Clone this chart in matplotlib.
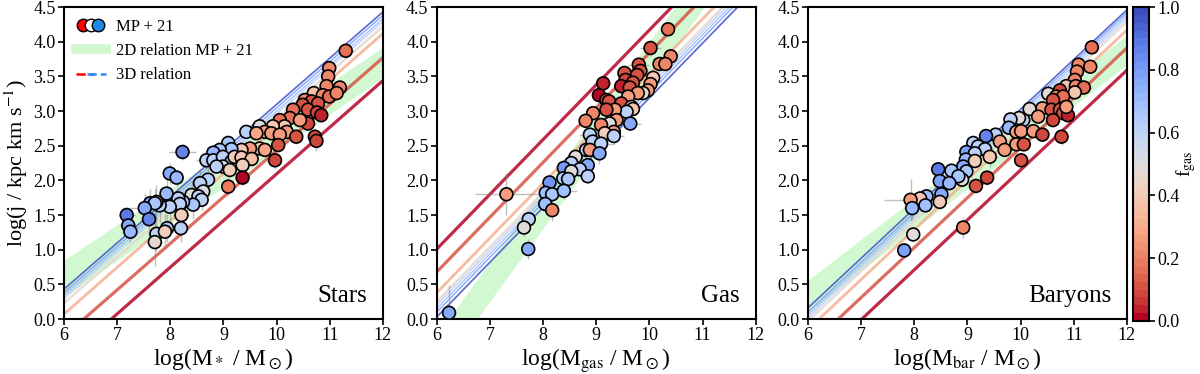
import numpy as np
import matplotlib
matplotlib.use("Agg")
import matplotlib.pyplot as plt
from matplotlib.lines import Line2D
from matplotlib.legend_handler import HandlerTuple

plt.rcParams['font.family'] = ['Liberation Serif', 'DejaVu Serif']
plt.rcParams['mathtext.fontset'] = 'stix'

# --- data: (log M, log j, f_gas, x error, y error) ---
stars_pts = [
    (11.30, 3.87, 0.15, 0.15, 0.10), (10.99, 3.62, 0.22, 0.10, 0.08), (10.97, 3.50, 0.22, 0.10, 0.08),
    (10.94, 3.36, 0.22, 0.12, 0.08), (11.19, 3.34, 0.22, 0.15, 0.10), (10.70, 3.26, 0.35, 0.10, 0.08),
    (10.87, 3.23, 0.20, 0.10, 0.08), (10.53, 3.16, 0.22, 0.10, 0.08), (10.66, 3.14, 0.12, 0.10, 0.08),
    (10.99, 3.21, 0.15, 0.10, 0.08), (11.13, 3.26, 0.22, 0.10, 0.08), (10.49, 3.09, 0.10, 0.10, 0.08),
    (10.78, 3.11, 0.10, 0.10, 0.08), (10.31, 3.02, 0.15, 0.10, 0.08), (10.59, 3.02, 0.10, 0.10, 0.08),
    (10.76, 2.98, 0.08, 0.10, 0.08), (10.84, 2.94, 0.03, 0.10, 0.10), (10.59, 2.82, 0.08, 0.15, 0.10),
    (10.25, 2.90, 0.15, 0.10, 0.08), (10.06, 2.87, 0.15, 0.10, 0.08), (10.44, 2.87, 0.25, 0.10, 0.08),
    (10.15, 2.78, 0.38, 0.10, 0.08), (10.19, 2.70, 0.25, 0.10, 0.08), (10.37, 2.63, 0.10, 0.10, 0.10),
    (10.72, 2.63, 0.08, 0.12, 0.12), (10.75, 2.57, 0.08, 0.10, 0.15), (9.93, 2.78, 0.38, 0.10, 0.08),
    (9.68, 2.78, 0.48, 0.10, 0.08), (9.78, 2.70, 0.28, 0.10, 0.08), (9.90, 2.68, 0.25, 0.10, 0.08),
    (9.43, 2.70, 0.60, 0.10, 0.08), (9.62, 2.68, 0.28, 0.10, 0.08), (10.06, 2.66, 0.25, 0.10, 0.08),
    (10.03, 2.51, 0.10, 0.10, 0.10), (9.68, 2.46, 0.38, 0.10, 0.10), (9.78, 2.44, 0.28, 0.10, 0.10),
    (9.50, 2.46, 0.25, 0.10, 0.10), (9.34, 2.44, 0.38, 0.10, 0.10), (9.09, 2.54, 0.65, 0.12, 0.12),
    (9.15, 2.45, 0.65, 0.12, 0.10), (8.93, 2.44, 0.65, 0.12, 0.10), (8.81, 2.40, 0.72, 0.20, 0.10),
    (8.68, 2.29, 0.62, 0.20, 0.12), (8.81, 2.29, 0.60, 0.12, 0.10), (8.99, 2.34, 0.60, 0.12, 0.10),
    (9.15, 2.27, 0.65, 0.12, 0.10), (9.21, 2.34, 0.40, 0.10, 0.10), (9.34, 2.33, 0.38, 0.10, 0.10),
    (9.53, 2.31, 0.35, 0.10, 0.10), (9.36, 2.22, 0.42, 0.10, 0.10), (8.99, 2.20, 0.50, 0.12, 0.10),
    (8.87, 2.20, 0.60, 0.12, 0.10), (9.12, 2.15, 0.40, 0.10, 0.10), (9.97, 2.29, 0.08, 0.10, 0.12),
    (8.23, 2.41, 0.85, 0.25, 0.12), (7.99, 2.10, 0.75, 0.12, 0.15), (8.12, 2.04, 0.72, 0.12, 0.12),
    (9.36, 2.04, 0.02, 0.10, 0.10), (9.09, 1.91, 0.18, 0.10, 0.12), (8.71, 2.01, 0.60, 0.12, 0.20),
    (8.56, 1.96, 0.62, 0.15, 0.20), (8.62, 1.84, 0.50, 0.12, 0.15), (8.40, 1.79, 0.48, 0.15, 0.20),
    (8.53, 1.77, 0.60, 0.12, 0.15), (8.59, 1.72, 0.62, 0.12, 0.15), (8.43, 1.65, 0.65, 0.15, 0.20),
    (8.24, 1.69, 0.65, 0.15, 0.15), (8.15, 1.74, 0.62, 0.15, 0.15), (8.18, 1.66, 0.60, 0.15, 0.15),
    (7.93, 1.81, 0.72, 0.15, 0.25), (7.99, 1.62, 0.60, 0.15, 0.20), (7.80, 1.64, 0.62, 0.15, 0.25),
    (7.74, 1.69, 0.30, 0.15, 0.25), (7.62, 1.67, 0.75, 0.20, 0.20), (7.71, 1.67, 0.65, 0.15, 0.20),
    (7.52, 1.60, 0.75, 0.40, 0.20), (8.21, 1.50, 0.42, 0.15, 0.20), (7.18, 1.50, 0.88, 0.15, 0.12),
    (7.21, 1.35, 0.75, 0.15, 0.15), (7.25, 1.26, 0.70, 0.15, 0.15), (7.60, 1.44, 0.85, 0.15, 0.35),
    (7.94, 1.31, 0.65, 0.15, 0.20), (8.20, 1.31, 0.62, 0.15, 0.20), (7.74, 1.23, 0.62, 0.15, 0.25),
    (7.90, 1.26, 0.40, 0.15, 0.25), (7.71, 1.11, 0.47, 0.15, 0.35),
]

gas_pts = [
    (10.35, 4.18, 0.15, 0.10, 0.08), (10.02, 3.91, 0.10, 0.20, 0.12), (10.40, 3.79, 0.22, 0.10, 0.08),
    (10.19, 3.68, 0.22, 0.10, 0.08), (10.30, 3.68, 0.22, 0.10, 0.08), (9.80, 3.67, 0.10, 0.20, 0.10),
    (9.83, 3.58, 0.10, 0.15, 0.10), (9.53, 3.55, 0.10, 0.12, 0.10), (9.77, 3.52, 0.10, 0.12, 0.10),
    (10.07, 3.48, 0.38, 0.10, 0.08), (9.13, 3.40, 0.03, 0.12, 0.10), (9.55, 3.45, 0.08, 0.12, 0.10),
    (9.69, 3.41, 0.10, 0.12, 0.10), (9.47, 3.36, 0.03, 0.12, 0.10), (9.63, 3.34, 0.10, 0.12, 0.10),
    (10.02, 3.39, 0.25, 0.10, 0.08), (9.97, 3.30, 0.25, 0.10, 0.08), (9.88, 3.26, 0.45, 0.10, 0.08),
    (9.78, 3.26, 0.25, 0.10, 0.08), (9.60, 3.21, 0.25, 0.10, 0.08), (9.05, 3.23, 0.02, 0.15, 0.12),
    (9.19, 3.16, 0.08, 0.12, 0.10), (9.24, 3.14, 0.10, 0.12, 0.10), (9.47, 3.11, 0.10, 0.12, 0.10),
    (9.66, 3.06, 0.48, 0.10, 0.08), (9.69, 3.03, 0.38, 0.10, 0.08), (9.57, 2.99, 0.62, 0.10, 0.08),
    (9.35, 3.02, 0.25, 0.12, 0.10), (9.19, 3.02, 0.10, 0.12, 0.10), (8.94, 2.97, 0.22, 0.12, 0.10),
    (8.80, 2.86, 0.22, 0.12, 0.10), (9.38, 2.87, 0.25, 0.12, 0.10), (9.25, 2.82, 0.48, 0.12, 0.10),
    (9.09, 2.80, 0.22, 0.12, 0.10), (9.64, 2.82, 0.75, 0.20, 0.10), (9.33, 2.70, 0.25, 0.12, 0.10),
    (9.16, 2.68, 0.40, 0.12, 0.10), (9.33, 2.64, 0.62, 0.20, 0.12), (8.88, 2.66, 0.62, 0.20, 0.12),
    (8.93, 2.56, 0.62, 0.12, 0.10), (9.09, 2.53, 0.62, 0.25, 0.12), (8.81, 2.44, 0.62, 0.12, 0.10),
    (8.88, 2.44, 0.25, 0.12, 0.10), (9.06, 2.39, 0.75, 0.12, 0.15), (8.61, 2.34, 0.48, 0.12, 0.10),
    (8.53, 2.25, 0.62, 0.12, 0.10), (8.39, 2.18, 0.82, 0.12, 0.10), (8.84, 2.22, 0.75, 0.12, 0.10),
    (8.69, 2.16, 0.62, 0.12, 0.10), (8.53, 2.13, 0.48, 0.12, 0.10), (8.38, 2.03, 0.62, 0.12, 0.10),
    (8.47, 2.02, 0.65, 0.12, 0.10), (8.84, 2.06, 0.62, 0.12, 0.10), (8.12, 1.97, 0.82, 0.12, 0.10),
    (8.05, 1.82, 0.68, 0.12, 0.10), (8.17, 1.80, 0.65, 0.15, 0.10), (8.39, 1.85, 0.68, 0.25, 0.12),
    (7.31, 1.80, 0.25, 0.60, 0.30), (8.04, 1.66, 0.68, 0.15, 0.12), (8.17, 1.57, 0.22, 0.12, 0.15),
    (7.73, 1.44, 0.62, 0.12, 0.12), (7.64, 1.32, 0.48, 0.12, 0.12), (7.72, 1.01, 0.75, 0.10, 0.15),
    (6.23, 0.09, 0.75, 0.10, 0.40),
]

baryons_pts = [
    (11.34, 3.92, 0.15, 0.10, 0.08), (11.09, 3.67, 0.22, 0.10, 0.08), (11.31, 3.64, 0.22, 0.10, 0.08),
    (11.06, 3.57, 0.22, 0.10, 0.08), (11.02, 3.45, 0.22, 0.10, 0.08), (10.86, 3.36, 0.38, 0.10, 0.08),
    (11.04, 3.36, 0.22, 0.10, 0.08), (11.19, 3.34, 0.15, 0.15, 0.10), (10.74, 3.30, 0.08, 0.10, 0.08),
    (11.02, 3.27, 0.38, 0.10, 0.08), (10.52, 3.25, 0.48, 0.10, 0.08), (10.67, 3.21, 0.22, 0.10, 0.08),
    (10.80, 3.21, 0.15, 0.10, 0.08), (10.61, 3.16, 0.10, 0.10, 0.08), (10.41, 3.04, 0.25, 0.10, 0.08),
    (10.58, 3.02, 0.10, 0.10, 0.08), (10.74, 3.02, 0.10, 0.10, 0.08), (10.80, 2.97, 0.10, 0.10, 0.08),
    (10.89, 2.94, 0.03, 0.12, 0.10), (10.61, 2.87, 0.08, 0.10, 0.08), (10.86, 3.06, 0.25, 0.10, 0.08),
    (10.17, 3.03, 0.48, 0.10, 0.08), (10.33, 2.92, 0.25, 0.10, 0.08), (10.05, 2.87, 0.62, 0.10, 0.08),
    (9.97, 2.90, 0.48, 0.10, 0.08), (9.81, 2.88, 0.62, 0.10, 0.08), (9.78, 2.76, 0.72, 0.10, 0.08),
    (9.92, 2.70, 0.25, 0.10, 0.08), (10.01, 2.71, 0.25, 0.10, 0.08), (10.24, 2.71, 0.25, 0.10, 0.08),
    (10.41, 2.66, 0.08, 0.10, 0.08), (10.77, 2.63, 0.08, 0.12, 0.12), (9.53, 2.66, 0.62, 0.10, 0.08),
    (9.35, 2.64, 0.85, 0.10, 0.08), (9.61, 2.56, 0.25, 0.10, 0.08), (9.70, 2.44, 0.25, 0.10, 0.08),
    (9.92, 2.52, 0.25, 0.10, 0.08), (10.06, 2.52, 0.10, 0.10, 0.08), (9.11, 2.54, 0.62, 0.10, 0.10),
    (9.20, 2.49, 0.62, 0.10, 0.10), (9.33, 2.45, 0.62, 0.15, 0.10), (8.98, 2.41, 0.78, 0.10, 0.10),
    (9.14, 2.39, 0.62, 0.10, 0.10), (8.97, 2.30, 0.72, 0.10, 0.10), (9.14, 2.28, 0.42, 0.10, 0.10),
    (9.42, 2.34, 0.38, 0.15, 0.15), (10.01, 2.29, 0.10, 0.10, 0.10), (8.92, 2.20, 0.75, 0.10, 0.10),
    (8.98, 2.13, 0.65, 0.10, 0.10), (8.90, 2.01, 0.48, 0.10, 0.10), (8.70, 2.14, 0.65, 0.10, 0.10),
    (8.83, 2.06, 0.65, 0.10, 0.10), (8.45, 2.16, 0.88, 0.10, 0.10), (8.48, 1.99, 0.78, 0.10, 0.10),
    (8.66, 1.96, 0.70, 0.10, 0.10), (9.37, 2.04, 0.08, 0.10, 0.10), (9.16, 1.92, 0.12, 0.10, 0.10),
    (8.51, 1.80, 0.75, 0.10, 0.10), (8.23, 1.77, 0.68, 0.10, 0.10), (8.11, 1.74, 0.38, 0.10, 0.10),
    (7.93, 1.72, 0.25, 0.50, 0.30), (8.21, 1.64, 0.68, 0.15, 0.10), (7.96, 1.60, 0.72, 0.15, 0.15),
    (8.48, 1.69, 0.40, 0.10, 0.10), (7.98, 1.22, 0.48, 0.10, 0.10), (8.92, 1.32, 0.22, 0.10, 0.15),
    (7.81, 0.99, 0.78, 0.10, 0.10),
]

# 3D relation lines at log M = 6 and 12, for a set of gas fractions
rel_fgas = [0.02, 0.10, 0.30, 0.45, 0.60, 0.70, 0.80, 0.95]
rel_x = [6, 12]
stars_rel_lo = [-0.60, -0.25, 0.07, 0.23, 0.30, 0.34, 0.38, 0.43]
stars_rel_hi = [3.44, 3.77, 4.12, 4.22, 4.29, 4.33, 4.38, 4.43]
gas_rel_lo = [1.01, 0.68, 0.38, 0.25, 0.20, 0.15, 0.10, 0.03]
gas_rel_hi = [5.75, 5.42, 5.12, 4.99, 4.94, 4.89, 4.84, 4.77]
bar_rel_lo = [-0.73, -0.41, -0.15, -0.03, 0.02, 0.06, 0.10, 0.16]
bar_rel_hi = [3.59, 3.91, 4.17, 4.29, 4.34, 4.38, 4.42, 4.46]
rel_lw = [2.3, 2.3, 2.0, 1.8, 1.2, 1.0, 1.0, 1.3]

# 2D relation band (lower/upper edge at log M = 6 and 12)
stars_band = [(0.32, 3.48), (0.85, 3.92)]
gas_band = [(-0.81, 5.50), (-0.25, 6.10)]
bar_band = [(0.10, 3.67), (0.56, 4.10)]

panel_names = ['Stars', 'Gas', 'Baryons']
xlabels = [r'log(M$_*$ / M$_\odot$)', r'log(M$_{\rm gas}$ / M$_\odot$)', r'log(M$_{\rm bar}$ / M$_\odot$)']

cmap = plt.get_cmap('coolwarm_r', 40)
norm = plt.Normalize(0, 1)

fig = plt.figure(figsize=(12, 3.74), dpi=100)
lefts = [0.0533, 0.364, 0.6733]
axes = [fig.add_axes([l, 0.147, 0.2658, 0.834]) for l in lefts]
cax = fig.add_axes([0.944, 0.142, 0.0133, 0.839])

panels = [
    (stars_pts, stars_rel_lo, stars_rel_hi, stars_band),
    (gas_pts, gas_rel_lo, gas_rel_hi, gas_band),
    (baryons_pts, bar_rel_lo, bar_rel_hi, bar_band),
]

for i, ax in enumerate(axes):
    pts, rlo, rhi, band = panels[i]
    # band
    ax.fill_between(rel_x, band[0], band[1], color='lightgreen', alpha=0.4, lw=0, zorder=1)
    # 3D relation lines
    for f, y0, y1, lw in zip(rel_fgas, rlo, rhi, rel_lw):
        ax.plot(rel_x, [y0, y1], color=cmap(norm(f)), lw=lw, alpha=0.85, zorder=2)
    x = np.array([p[0] for p in pts])
    y = np.array([p[1] for p in pts])
    fg = np.array([p[2] for p in pts])
    xe = np.array([p[3] for p in pts])
    ye = np.array([p[4] for p in pts])
    ax.errorbar(x, y, xerr=xe, yerr=ye, fmt='none', ecolor='grey', alpha=0.5, lw=1, zorder=3)
    ax.scatter(x, y, c=fg, cmap=cmap, norm=norm, s=85, edgecolors='black', linewidths=1.2, zorder=4)

    ax.set_xlim(6, 12)
    ax.set_ylim(0, 4.5)
    ax.set_xticks(np.arange(6, 13, 1))
    ax.set_yticks(np.arange(0, 4.51, 0.5))
    ax.set_yticklabels([f'{v:.1f}' for v in np.arange(0, 4.51, 0.5)])
    ax.tick_params(direction='out', length=4, width=1.2, labelsize=13, pad=2)
    for s in ax.spines.values():
        s.set_linewidth(1.5)
    ax.set_xlabel(xlabels[i], fontsize=17, labelpad=1)
    ax.text(0.95, 0.04, panel_names[i], transform=ax.transAxes, ha='right', va='bottom', fontsize=18)

axes[0].set_ylabel(r'log(j / kpc km s$^{-1}$)', fontsize=16, labelpad=2)

# legend
m_r = Line2D([], [], ls='none', marker='o', markersize=9, markerfacecolor='red', markeredgecolor='black')
m_w = Line2D([], [], ls='none', marker='o', markersize=9, markerfacecolor='white', markeredgecolor='black')
m_b = Line2D([], [], ls='none', marker='o', markersize=9, markerfacecolor='#1e88e5', markeredgecolor='black')
band_h = Line2D([], [], color='lightgreen', alpha=0.4, lw=7)
l_r = Line2D([], [], color='red', ls='--', lw=1.8)
l_b = Line2D([], [], color='#1e90ff', ls='--', lw=1.8)
axes[0].legend([(m_r, m_w, m_b), band_h, (l_r, l_b)],
               ['MP + 21', '2D relation MP + 21', '3D relation'],
               handler_map={tuple: HandlerTuple(ndivide=None, pad=-0.4)},
               loc='upper left', frameon=False, fontsize=12, handlelength=1.8,
               borderaxespad=0.3, labelspacing=0.5, handletextpad=0.6)

sm = plt.cm.ScalarMappable(cmap=cmap, norm=norm)
cb = fig.colorbar(sm, cax=cax)
cb.set_ticks(np.arange(0, 1.01, 0.2))
cb.ax.tick_params(labelsize=13, width=1.2, length=4, pad=2)
cb.outline.set_linewidth(1.5)
cb.ax.set_ylabel(r'f$_{\rm gas}$', fontsize=14, rotation=90, va='center', ha='center')
cb.ax.yaxis.set_label_coords(3.35, 0.5)

fig.savefig('out.png', dpi=100)
